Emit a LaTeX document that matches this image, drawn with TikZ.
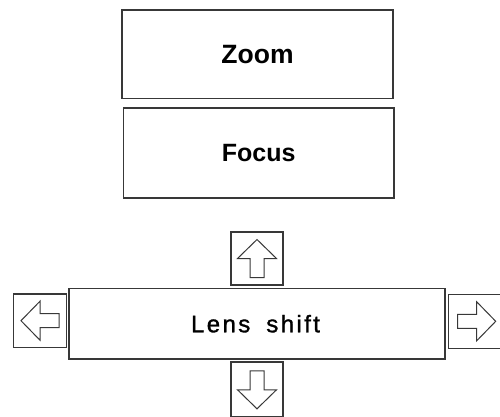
\documentclass[tikz,border=0pt]{standalone}
\usepackage{fontspec}
\setmainfont{Liberation Sans}
\newfontfamily\spacedfont[LetterSpace=10,FakeBold=1.2]{Liberation Sans}
\begin{document}
\begin{tikzpicture}[x=1pt,y=-1pt,
  box/.style={draw=black!78,line width=1.3pt,fill=white,inner sep=0pt},
  arrowline/.style={draw=black!78,line width=1pt,line join=miter},
  blockarrow/.pic={\draw[arrowline] (19,0) -- (0,-19.5) -- (0,-7) -- (-19,-7) -- (-19,7) -- (0,7) -- (0,19.5) -- cycle;}
]
\useasboundingbox (0,0) rectangle (500,416);
\clip (0,0) rectangle (500,416);
\node[box,minimum width=271pt,minimum height=88.5pt,font=\fontsize{26.5}{30}\selectfont\bfseries] (zoom) at (257.5,54.3) {Zoom};
\node[box,minimum width=270.5pt,minimum height=90pt,font=\fontsize{25}{29}\selectfont\bfseries] (focus) at (258.7,153) {Focus};
\node[box,minimum width=376pt,minimum height=70.5pt,font=\fontsize{24}{28}\selectfont\spacedfont] (lens) at (257,323.7) {\hspace*{-3pt}Lens\hspace{7pt} shift};
\node[box,minimum width=52pt,minimum height=53pt] (up) at (257,258.5) {};
\node[box,minimum width=52pt,minimum height=55pt] (down) at (257,389.5) {};
\node[box,minimum width=53.4pt,minimum height=53.3pt] (left) at (40,320.7) {};
\node[box,minimum width=52.5pt,minimum height=54pt] (right) at (474.7,321.3) {};
\pic[rotate=90] at (up.center) {blockarrow};
\pic[rotate=-90] at ([yshift=-0.3pt]down.center) {blockarrow};
\pic[rotate=180] at (left.center) {blockarrow};
\pic at ([xshift=2pt]right.center) {blockarrow};
\end{tikzpicture}
\end{document}
